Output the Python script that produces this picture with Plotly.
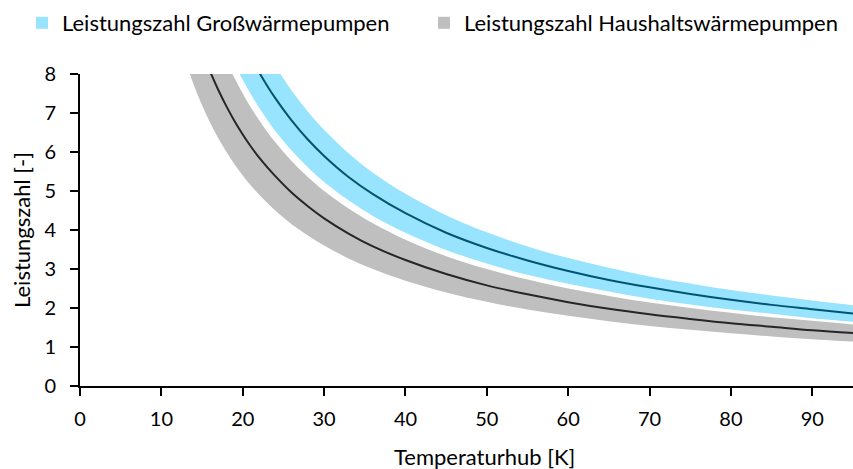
import plotly.graph_objects as go

# Temperature lift [K]
temperaturhub = [13, 14, 15, 16, 17, 18, 19, 20, 21, 22, 23, 24, 26, 28, 30, 33, 36, 40,
                 45, 50, 55, 60, 65, 70, 75, 80, 85, 90, 95]

# Large heat pumps (Großwärmepumpen): band upper/lower and centre line
gross_oben = [15.15, 14.07, 13.13, 12.31, 11.59, 10.94, 10.37, 9.85, 9.38, 8.95, 8.57, 8.21,
              7.58, 7.04, 6.57, 5.97, 5.47, 4.93, 4.38, 3.94, 3.58, 3.28, 3.03, 2.81, 2.63,
              2.46, 2.32, 2.19, 2.07]
gross_mitte = [13.62, 12.64, 11.80, 11.06, 10.41, 9.83, 9.32, 8.85, 8.43, 8.05, 7.70, 7.38,
               6.81, 6.32, 5.90, 5.36, 4.92, 4.43, 3.93, 3.54, 3.22, 2.95, 2.72, 2.53, 2.36,
               2.21, 2.08, 1.97, 1.86]
gross_unten = [12.08, 11.21, 10.47, 9.81, 9.24, 8.72, 8.26, 7.85, 7.48, 7.14, 6.83, 6.54,
               6.04, 5.61, 5.23, 4.76, 4.36, 3.93, 3.49, 3.14, 2.85, 2.62, 2.42, 2.24, 2.09,
               1.96, 1.85, 1.74, 1.65]

# Household heat pumps (Haushaltswärmepumpen)
haus_oben = [11.54, 10.71, 10.00, 9.38, 8.82, 8.33, 7.89, 7.50, 7.14, 6.82, 6.52, 6.25,
             5.77, 5.36, 5.00, 4.55, 4.17, 3.75, 3.33, 3.00, 2.73, 2.50, 2.31, 2.14, 2.00,
             1.88, 1.76, 1.67, 1.58]
haus_mitte = [9.92, 9.21, 8.60, 8.06, 7.59, 7.17, 6.79, 6.45, 6.14, 5.86, 5.61, 5.38,
              4.96, 4.61, 4.30, 3.91, 3.58, 3.23, 2.87, 2.58, 2.35, 2.15, 1.98, 1.84, 1.72,
              1.61, 1.52, 1.43, 1.36]
haus_unten = [8.31, 7.71, 7.20, 6.75, 6.35, 6.00, 5.68, 5.40, 5.14, 4.91, 4.70, 4.50,
              4.15, 3.86, 3.60, 3.27, 3.00, 2.70, 2.40, 2.16, 1.96, 1.80, 1.66, 1.54, 1.44,
              1.35, 1.27, 1.20, 1.14]

x_ticks = [0, 10, 20, 30, 40, 50, 60, 70, 80, 90]
y_ticks = [0, 1, 2, 3, 4, 5, 6, 7, 8]

name_gross = "Leistungszahl Großwärmepumpen"
name_haus = "Leistungszahl Haushaltswärmepumpen"
x_title = "Temperaturhub [K]"
y_title = "Leistungszahl [-]"

BLUE_BAND = "#98E3FE"
BLUE_LINE = "#00546F"
GRAY_BAND = "#BFBFBF"
GRAY_LINE = "#262626"

FONT = "Lato"
W, H = 853, 469
ML, MR, MT, MB = 80, 0, 74, 83
PW, PH = W - ML - MR, H - MT - MB

fig = go.Figure()

# household band
fig.add_trace(go.Scatter(x=temperaturhub, y=haus_unten, mode="lines",
                         line=dict(width=0, color=GRAY_BAND, shape="spline"),
                         showlegend=False, hoverinfo="skip"))
fig.add_trace(go.Scatter(x=temperaturhub, y=haus_oben, mode="lines", fill="tonexty",
                         fillcolor=GRAY_BAND,
                         line=dict(width=0, color=GRAY_BAND, shape="spline"),
                         showlegend=False, hoverinfo="skip"))
# large band
fig.add_trace(go.Scatter(x=temperaturhub, y=gross_unten, mode="lines",
                         line=dict(width=0, color=BLUE_BAND, shape="spline"),
                         showlegend=False, hoverinfo="skip"))
fig.add_trace(go.Scatter(x=temperaturhub, y=gross_oben, mode="lines", fill="tonexty",
                         fillcolor=BLUE_BAND,
                         line=dict(width=0, color=BLUE_BAND, shape="spline"),
                         showlegend=False, hoverinfo="skip"))
# centre lines
fig.add_trace(go.Scatter(x=temperaturhub, y=haus_mitte, mode="lines",
                         line=dict(width=2, color=GRAY_LINE, shape="spline"),
                         showlegend=False))
fig.add_trace(go.Scatter(x=temperaturhub, y=gross_mitte, mode="lines",
                         line=dict(width=2, color=BLUE_LINE, shape="spline"),
                         showlegend=False))

# legend entries (one legend each, placed side by side)
fig.add_trace(go.Scatter(x=[None], y=[None], mode="markers", name=name_gross,
                         legend="legend",
                         marker=dict(symbol="square", size=12, color=BLUE_BAND)))
fig.add_trace(go.Scatter(x=[None], y=[None], mode="markers", name=name_haus,
                         legend="legend2",
                         marker=dict(symbol="square", size=12, color=GRAY_BAND)))

legend_common = dict(orientation="h", xref="container", yref="container",
                     xanchor="left", y=1 - 23 / H, yanchor="middle",
                     font=dict(family=FONT, size=22, color="black"),
                     itemwidth=30, bgcolor="rgba(0,0,0,0)")

fig.update_layout(
    width=W, height=H,
    margin=dict(l=ML, r=MR, t=MT, b=MB, autoexpand=False),
    paper_bgcolor="white", plot_bgcolor="white",
    font=dict(family=FONT, size=20, color="black"),
    legend=dict(legend_common, x=22 / W),
    legend2=dict(legend_common, x=424 / W),
    xaxis=dict(range=[0, 95], tickmode="array", tickvals=x_ticks, automargin=False,
               showgrid=False, zeroline=False, showline=True, linecolor="black",
               linewidth=2, ticks="outside", ticklen=8, tickcolor="black", tickwidth=1.5,
               ticklabelstandoff=6, tickfont=dict(size=20)),
    yaxis=dict(range=[0, 8], tickmode="array", tickvals=y_ticks, automargin=False,
               showgrid=False, zeroline=False, showline=True, linecolor="black",
               linewidth=2, ticks="outside", ticklen=8, tickcolor="black", tickwidth=1.5,
               ticklabelstandoff=10, tickfont=dict(size=20)),
    annotations=[
        dict(text=x_title, xref="paper", yref="paper", x=(484 - ML) / PW,
             y=-(456 - MT - PH) / PH, xanchor="center", yanchor="middle",
             showarrow=False, font=dict(size=22)),
        dict(text=y_title, xref="paper", yref="paper", x=(21 - ML) / PW,
             y=0.5, xanchor="center", yanchor="middle", textangle=-90,
             showarrow=False, font=dict(size=22)),
    ],
)

fig.write_html(
    "out.html",
    config={"displayModeBar": False},
    post_script="document.body.style.margin='0px';document.body.style.overflow='hidden';",
)
